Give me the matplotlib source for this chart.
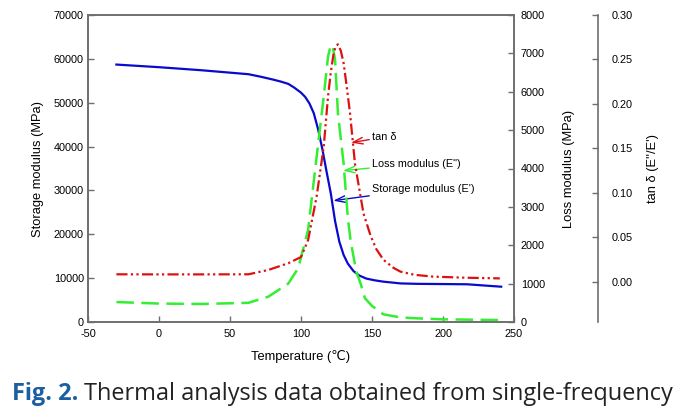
import matplotlib
matplotlib.use("Agg")
import matplotlib.pyplot as plt

# Storage modulus E' (MPa), left axis
temp_e1 = [-30, 0, 30, 63, 72, 80, 86, 91, 95, 100, 103, 106, 109, 112, 115, 118, 121, 124, 127, 130, 133,
           137, 141, 146, 152, 158, 170, 182, 200, 217, 230, 241]
storage = [58700, 58100, 57400, 56500, 55900, 55300, 54800, 54300, 53500, 52300, 51300, 49800, 47600, 44000,
           39500, 34300, 29300, 23000, 18300, 15300, 13300, 11600, 10600, 9900, 9500, 9200, 8800, 8700, 8650,
           8600, 8300, 8050]

# Loss modulus E'' (MPa), right axis
temp_e2 = [-30, 0, 30, 63, 77, 91, 98, 105, 111, 116, 119, 121, 122.5, 124, 126, 130, 133, 135, 139, 142,
           145, 150, 158, 170, 182, 200, 240]
loss = [520, 480, 470, 500, 660, 1000, 1400, 2400, 4300, 5870, 6910, 7220, 7150, 6830, 5440, 4135, 2700,
        2100, 1300, 1000, 620, 420, 200, 120, 95, 70, 50]

# tan delta, third axis
temp_td = [-30, 0, 30, 63, 77, 91, 100, 105, 111, 116, 119, 121, 123, 124.5, 126, 128, 130, 132, 134.5,
           138, 141, 144, 149, 153, 158, 165, 170, 180, 193, 215, 240]
tan_d = [0.0086, 0.0085, 0.0085, 0.0086, 0.0135, 0.021, 0.028, 0.047, 0.096, 0.152, 0.208, 0.236, 0.257,
         0.265, 0.267, 0.26, 0.246, 0.222, 0.19, 0.133, 0.105, 0.077, 0.052, 0.037, 0.025, 0.016, 0.0116,
         0.008, 0.006, 0.0048, 0.004]

x_ticks = [-50, 0, 50, 100, 150, 200, 250]

plt.rcParams["font.family"] = ["Liberation Sans", "DejaVu Sans"]
plt.rcParams["axes.unicode_minus"] = False
GRAY = "#6e6e6e"
BLUE = "#0a0acc"
RED = "#dd1111"
GREEN = "#33ee33"

fig = plt.figure(figsize=(6.82, 4.20), dpi=100)
ax = fig.add_axes([88 / 682, 98 / 420, 426 / 682, 307 / 420])
ax2 = ax.twinx()
ax3 = ax.twinx()
ax3.spines["right"].set_position(("axes", 1.197))
for a in (ax, ax2, ax3):
    for s in a.spines.values():
        s.set_color(GRAY)
        s.set_linewidth(1.2)
ax3.spines["top"].set_visible(False)
ax3.spines["left"].set_visible(False)
ax3.spines["bottom"].set_visible(False)

ax.plot(temp_e1, storage, color=BLUE, lw=1.6)
ax2.plot(temp_e2, loss, color=GREEN, lw=1.8, dashes=(7, 3))
ax3.plot(temp_td, tan_d, color=RED, lw=1.6, dashes=(5, 1.5, 1, 1.5, 1, 1.5))

ax.set_xlim(-50, 250)
ax.set_ylim(0, 70000)
ax2.set_ylim(0, 8000)
ax3.set_ylim(-0.045, 0.30)
ax.set_xticks(x_ticks)
ax.set_yticks(range(0, 70001, 10000))
ax2.set_yticks(range(0, 8001, 1000))
td_ticks = [0, 0.05, 0.10, 0.15, 0.20, 0.25, 0.30]
ax3.set_yticks(td_ticks)
ax3.set_yticklabels(["%.2f" % v for v in td_ticks])

for a in (ax, ax2, ax3):
    a.tick_params(direction="in", length=4, width=1, color=GRAY, labelsize=7.8, pad=3)
ax.tick_params(axis="x", pad=5)
ax2.tick_params(pad=5)
ax3.tick_params(pad=10)

ax.set_xlabel("Temperature (\u2103)", fontsize=9.3, labelpad=8)
ax.set_ylabel("Storage modulus (MPa)", fontsize=9.3, labelpad=7)
ax2.set_ylabel("Loss modulus (MPa)", fontsize=9.3, labelpad=13)
ax3.set_ylabel("tan \u03b4 (E''/E')", fontsize=9.3, labelpad=10)

# annotations with open arrowheads
arrow = "->,head_length=0.9,head_width=0.3"
ax.annotate("tan \u03b4", xy=(135.2, (322 - 142.7) / 4.386 * 1000), xytext=(150, (322 - 137) / 4.386 * 1000),
            fontsize=7.8, va="center", color="black",
            arrowprops=dict(arrowstyle=arrow, color=RED, lw=1, shrinkA=0, shrinkB=0))
ax.annotate("Loss modulus (E\")", xy=(129.6, (322 - 170.7) / 4.386 * 1000), xytext=(150, (322 - 163.5) / 4.386 * 1000),
            fontsize=7.8, va="center", color="black",
            arrowprops=dict(arrowstyle=arrow, color=GREEN, lw=1, shrinkA=0, shrinkB=0))
ax.annotate("Storage modulus (E')", xy=(122.7, (322 - 200.7) / 4.386 * 1000), xytext=(150, (322 - 188.5) / 4.386 * 1000),
            fontsize=7.8, va="center", color="black",
            arrowprops=dict(arrowstyle=arrow, color=BLUE, lw=1, shrinkA=0, shrinkB=0))

# caption
cap_font = ["Open Sans", "DejaVu Sans"]
t1 = fig.text(12 / 682, 1 - 394 / 420, "Fig. 2.", fontsize=16.9, fontweight="bold", color="#1c5fa0",
              family=cap_font, va="center")
fig.canvas.draw()
bb = t1.get_window_extent()
fig.text((bb.x1 + 6) / 682, 1 - 394 / 420, "Thermal analysis data obtained from single-frequency",
         fontsize=16.9, color="#222222", family=cap_font, va="center")

fig.savefig("out.png", dpi=100)
